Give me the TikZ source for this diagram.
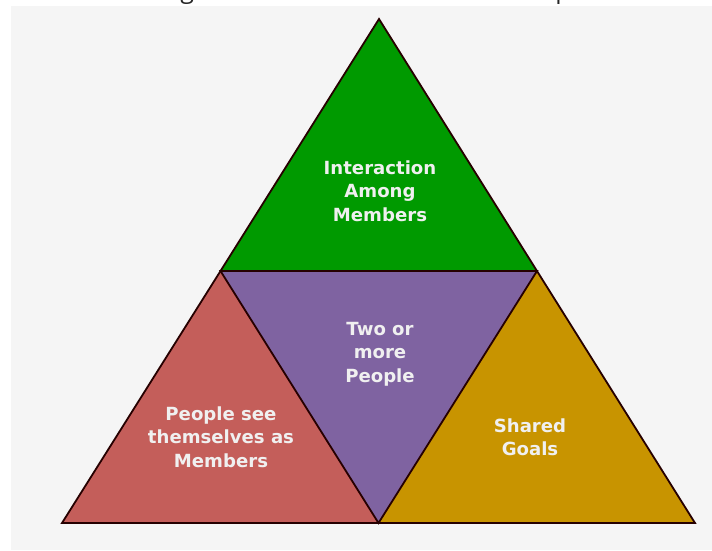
\documentclass[tikz,border=0pt]{standalone}
\usepackage{fontspec}
\setmainfont{DejaVu Sans}
\newfontfamily\titlefont{Open Sans}
\begin{document}
\begin{tikzpicture}[x=1pt,y=-1pt,
  edge/.style={draw=black!85!red, line width=1.8pt, line join=miter},
  label/.style={align=center, text=white!94!black, font=\fontsize{18.1}{23.5}\selectfont\bfseries},
]
\definecolor{pgreen}{HTML}{009A00}
\definecolor{ppurple}{HTML}{7F63A1}
\definecolor{pred}{HTML}{C45E5A}
\definecolor{pgold}{HTML}{C89400}
\definecolor{panel}{HTML}{F5F5F5}
\useasboundingbox (0,0) rectangle (712,550);
\fill[white] (0,0) rectangle (712,550);
\fill[panel] (11,6) rectangle (712,550);

% title line, only its lowest part lies on the page
\node[anchor=base, font=\titlefont\fontsize{25}{30}\selectfont, text=black!85] (title) at (366,-2) {Figure 3: Characteristics of a Group};

% corners of the large triangle and the midpoints of its sides
\coordinate (apex) at (379,19);
\coordinate (bl) at (62,523);
\coordinate (br) at (695,523);
\coordinate (ml) at (220.5,271);
\coordinate (mr) at (537,271);
\coordinate (mb) at (378.5,523);

\fill[pgreen] (apex) -- (ml) -- (mr) -- cycle;
\fill[ppurple] (ml) -- (mr) -- (mb) -- cycle;
\fill[pred] (ml) -- (bl) -- (mb) -- cycle;
\fill[pgold] (mr) -- (mb) -- (br) -- cycle;

\draw[edge] (apex) -- (bl) -- (br) -- cycle;
\draw[edge] (ml) -- (mr) -- (mb) -- cycle;

\node[label] (top) at (380,191) {Interaction\\Among\\Members};
\node[label] (mid) at (380,354) {Two or\\more\\People};
\node[label] (left) at (221,437) {People see\\themselves as\\Members};
\node[label] (right) at (530,437) {Shared\\Goals};
\end{tikzpicture}
\end{document}
